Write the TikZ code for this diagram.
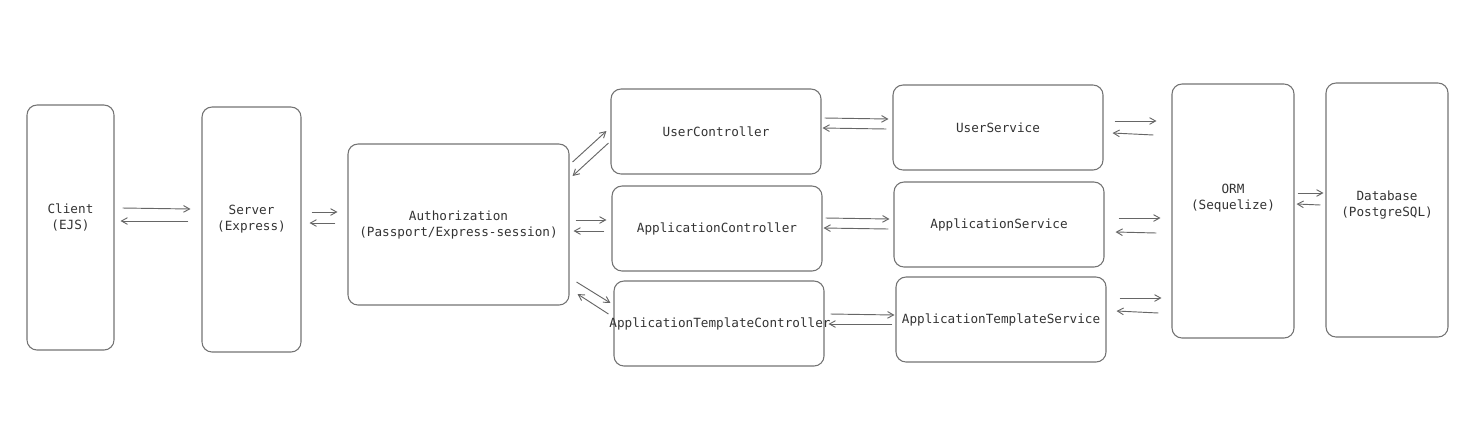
\documentclass[tikz,border=0pt]{standalone}
\usepackage{fontspec}
\setmonofont{DejaVu Sans Mono}
\usetikzlibrary{arrows.meta}
\definecolor{boxline}{rgb}{0.45, 0.45, 0.45}
\definecolor{flowline}{rgb}{0.40, 0.40, 0.40}
\definecolor{labeltext}{rgb}{0.20, 0.20, 0.20}
\newlength{\px}
\setlength{\px}{0.75pt}

\begin{document}
\begin{tikzpicture}[x=0.75pt,y=-0.75pt,
  comp/.style={draw=boxline, line width=0.8pt, rounded corners=7.5pt,
    align=center, text=labeltext, inner sep=0pt,
    font=\ttfamily\fontsize{9.5}{12}\selectfont},
  tall/.style={comp, minimum width=122\px, minimum height=254\px},
  layer/.style={comp, minimum width=210\px, minimum height=85\px},
  txt/.style={align=center, text=labeltext, inner sep=0pt,
    font=\ttfamily\fontsize{9.5}{12}\selectfont},
  flow/.style={draw=flowline, line width=0.7pt,
    -{Straight Barb[length=4.5pt,width=5pt]}}]
\useasboundingbox (0,0) rectangle (1483,437);

% boxes
\node[comp, minimum width=87\px, minimum height=245\px] (client) at (70.5,227.5) {};
\node[txt] (clientname) at ([yshift=10\px]client.center) {Client\\(EJS)};

\node[comp, minimum width=99\px, minimum height=245\px] (server) at (251.5,229.5) {};
\node[txt] (servername) at ([yshift=10.5\px]server.center) {Server\\(Express)};

\node[comp, minimum width=221\px, minimum height=161\px] (auth) at (458.5,224.5)
  {Authorization\\(Passport/Express-session)};

\node[layer] (uc) at (716,131.5) {UserController};
\node[layer] (ac) at (717,228.5) {ApplicationController};
\node[layer] (atc) at (719,323.5) {};
\node[txt] (atcname) at ([xshift=1\px]atc.center) {ApplicationTemplateController};

\node[layer] (us) at (998,127.5) {UserService};
\node[layer] (as) at (999,224.5) {ApplicationService};
\node[layer] (ats) at (1001,319.5) {ApplicationTemplateService};

\node[tall] (orm) at (1233,211) {};
\node[txt] (ormname) at ([yshift=13\px]orm.center) {ORM\\(Sequelize)};

\node[tall] (db) at (1387,210) {};
\node[txt] (dbname) at ([yshift=5\px]db.center) {Database\\(PostgreSQL)};

% requests and responses
\draw[flow] ([shift={(8,-19.5)}]client.east) -- ([shift={(-11,-20.5)}]server.west);
\draw[flow] ([shift={(-13,-8.5)}]server.west) -- ([shift={(6,-6.5)}]client.east);

\draw[flow] ([shift={(10,-17.5)}]server.east) -- ([shift={(-10,-12.5)}]auth.west);
\draw[flow] ([shift={(-12,-1.5)}]auth.west) -- ([shift={(8,-6.5)}]server.east);

\draw[flow] ([shift={(3,-62.5)}]auth.east) -- ([shift={(-4,-0.5)}]uc.west);
\draw[flow] ([shift={(-2,11.5)}]uc.west) -- ([shift={(3,-48.5)}]auth.east);

\draw[flow] ([shift={(6,-4.5)}]auth.east) -- ([shift={(-5,-8.5)}]ac.west);
\draw[flow] ([shift={(-7,2.5)}]ac.west) -- ([shift={(4,6.5)}]auth.east);

\draw[flow] ([shift={(7,57.5)}]auth.east) -- ([shift={(-3,-20.5)}]atc.west);
\draw[flow] ([shift={(-5,-9.5)}]atc.west) -- ([shift={(8,69.5)}]auth.east);

\draw[flow] ([shift={(3,-13.5)}]uc.east) -- ([shift={(-4,-8.5)}]us.west);
\draw[flow] ([shift={(-6,1.5)}]us.west) -- ([shift={(1,-3.5)}]uc.east);

\draw[flow] ([shift={(3,-10.5)}]ac.east) -- ([shift={(-4,-5.5)}]as.west);
\draw[flow] ([shift={(-5,4.5)}]as.west) -- ([shift={(1,-0.5)}]ac.east);

\draw[flow] ([shift={(6,-9.5)}]atc.east) -- ([shift={(-1,-4.5)}]ats.west);
\draw[flow] ([shift={(-3,4.5)}]ats.west) -- ([shift={(4,0.5)}]atc.east);

\draw[flow] ([shift={(11,-6.5)}]us.east) -- ([shift={(-15,-90)}]orm.west);
\draw[flow] ([shift={(-18,-76)}]orm.west) -- ([shift={(9,5.5)}]us.east);

\draw[flow] ([shift={(14,-6.5)}]as.east) -- ([shift={(-11,7)}]orm.west);
\draw[flow] ([shift={(-15,22)}]orm.west) -- ([shift={(11,7.5)}]as.east);

\draw[flow] ([shift={(13,-21.5)}]ats.east) -- ([shift={(-10,87)}]orm.west);
\draw[flow] ([shift={(-13,102)}]orm.west) -- ([shift={(10,-8.5)}]ats.east);

\draw[flow] ([shift={(3,-18)}]orm.east) -- ([shift={(-2,-17)}]db.west);
\draw[flow] ([shift={(-5,-5)}]db.west) -- ([shift={(2,-7)}]orm.east);
\end{tikzpicture}
\end{document}
